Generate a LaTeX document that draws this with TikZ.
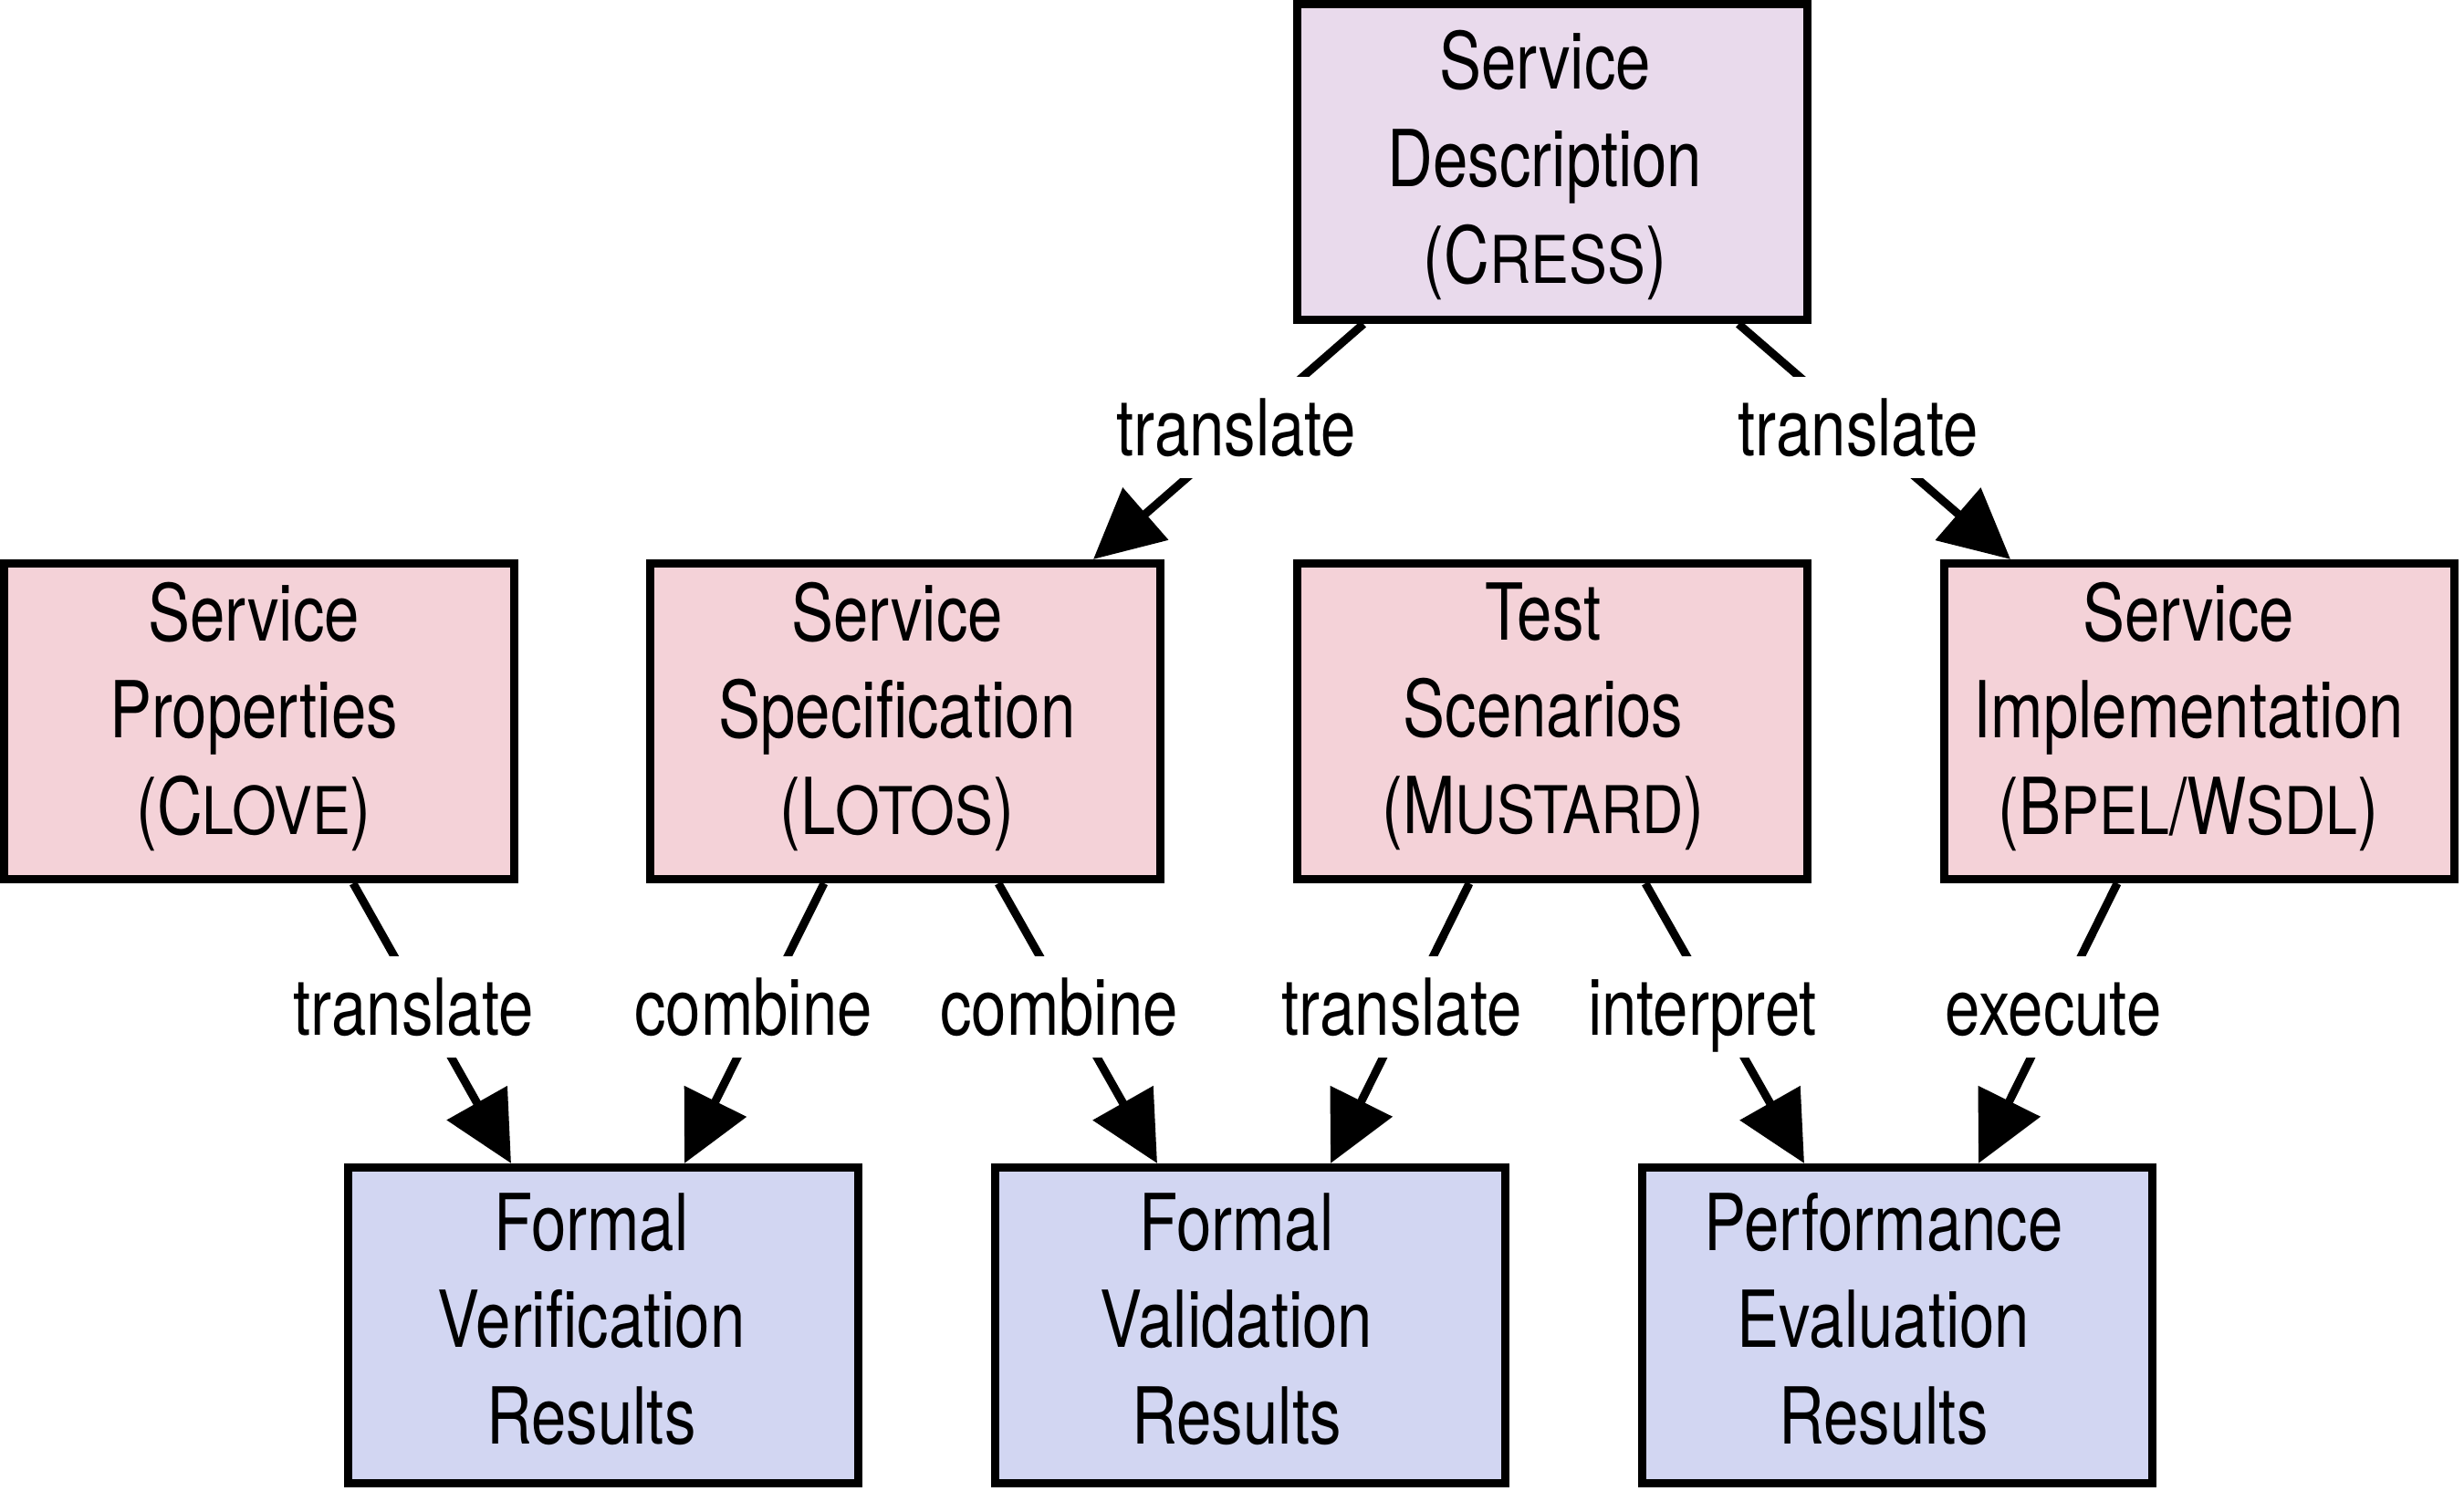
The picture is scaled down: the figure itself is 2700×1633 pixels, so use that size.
\documentclass[tikz,border=0pt]{standalone}
\usepackage{fontspec}
\setmainfont{TeX Gyre Heros}[FakeStretch=0.8]
\newfontfamily\scfam{TeX Gyre Heros}[FakeStretch=0.87]
\usetikzlibrary{arrows.meta,calc}
\definecolor{topfill}{HTML}{E9DAEC}
\definecolor{midfill}{HTML}{F4D2D8}
\definecolor{botfill}{HTML}{D2D6F2}
\newcommand\smc[1]{{\scfam\fontsize{20.5pt}{30pt}\selectfont #1}}
\tikzset{
  box/.style 2 args={draw=black, line width=0.09cm, minimum width=5.59cm, minimum height=3.46cm,
    inner sep=0pt, text width=5.59cm, font=\fontsize{24.5pt}{30.2pt}\selectfont,
    execute at begin node={\centering\rightskip=#1 plus 1fil},
    execute at end node={\par\vspace*{#2}}},
  lab/.style={fill=white, inner xsep=0.08cm, inner ysep=0.245cm, text height=0.62cm,
    text depth=0pt, font=\fontsize{24.5pt}{30.2pt}\selectfont, xshift=#1},
  lab/.default=0cm,
  conn/.style={line width=0.09cm, -{Triangle[length=0.76cm,width=0.74cm]}},
}
\begin{document}
\begin{tikzpicture}[x=0.01cm,y=-0.01cm]
\useasboundingbox (0,0) rectangle (2700,1633);
\node[box={0.16cm}{-0.07cm},fill=topfill] (desc) at (1701,177.5) {Service\\Description\\(C\smc{RESS})};
\node[box={0.12cm}{0.10cm},fill=midfill] (prop) at (284,790.5) {Service\\Properties\\(C\smc{LOVE})};
\node[box={0.18cm}{0.10cm},fill=midfill] (spec) at (992,790.5) {Service\\Specification\\(L\smc{OTOS})};
\node[box={0.20cm}{0.10cm},fill=midfill] (test) at (1701,790.5) {Test\\Scenarios\\(M\smc{USTARD})};
\node[box={0.24cm}{0.10cm},fill=midfill] (impl) at (2410,790.5) {Service\\Implementation\\(B\smc{PEL}/W\smc{SDL})};
\node[box={0.26cm}{0.14cm},fill=botfill] (verif) at (661,1452.5) {Formal\\Verification\\Results};
\node[box={0.30cm}{0.14cm},fill=botfill] (valid) at (1370,1452.5) {Formal\\Validation\\Results};
\node[box={0.30cm}{0.14cm},fill=botfill] (perf) at (2079,1452.5) {Performance\\Evaluation\\Results};

\draw[conn] ($(desc.south)+(-207,0)$) -- node[lab=-0.09cm,pos=0.44] (l1) {translate} ($(spec.north)+(206,0)$);
\draw[conn] ($(desc.south)+(204,0)$) -- node[lab,pos=0.44] (l2) {translate} ($(impl.north)+(-207,0)$);
\draw[conn] ($(prop.south)+(103,0)$) -- node[lab=-0.10cm,pos=0.44] (l3) {translate} ($(verif.north)+(-101,0)$);
\draw[conn] ($(spec.south)+(-89,0)$) -- node[lab=-0.10cm,pos=0.44] (l4) {combine} ($(verif.north)+(89,0)$);
\draw[conn] ($(spec.south)+(102,0)$) -- node[lab=-0.10cm,pos=0.44] (l5) {combine} ($(valid.north)+(-102,0)$);
\draw[conn] ($(test.south)+(-91,0)$) -- node[lab=-0.07cm,pos=0.44] (l6) {translate} ($(valid.north)+(88,0)$);
\draw[conn] ($(test.south)+(102,0)$) -- node[lab=-0.14cm,pos=0.44] (l7) {interpret} ($(perf.north)+(-102,0)$);
\draw[conn] ($(impl.south)+(-90,0)$) -- node[lab=-0.03cm,pos=0.44] (l8) {execute} ($(perf.north)+(89,0)$);
\end{tikzpicture}
\end{document}
